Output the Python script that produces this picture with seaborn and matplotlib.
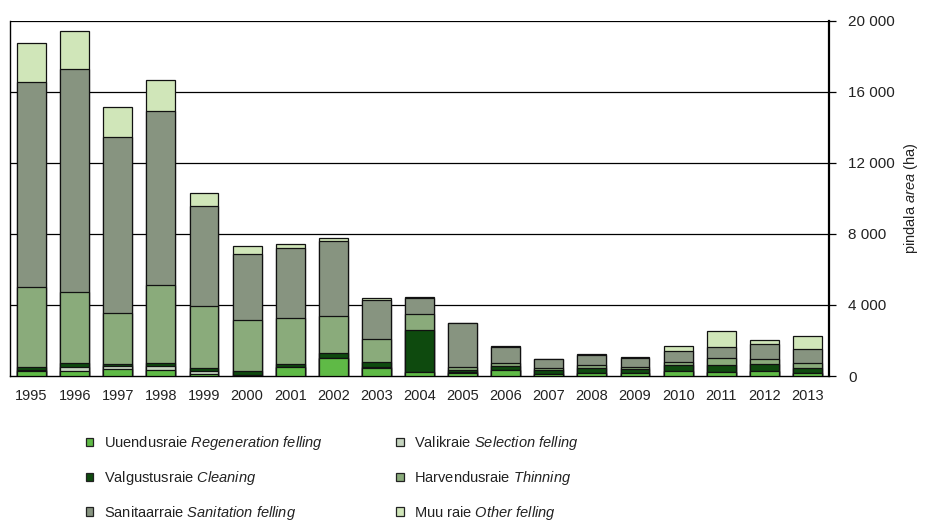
import numpy as np
import pandas as pd
import seaborn as sns
import matplotlib
matplotlib.use("Agg")
import matplotlib.pyplot as plt
from matplotlib.patches import Patch
from matplotlib.ticker import FuncFormatter

years = [str(y) for y in range(1995, 2014)]
regeneration = [300, 300, 390, 320, 100, 20, 520, 990, 470, 200, 180, 340, 100, 150, 170, 300, 230, 280, 190]
selection = [30, 220, 150, 220, 200, 10, 0, 0, 50, 0, 30, 0, 20, 0, 0, 0, 0, 0, 0]
cleaning = [150, 230, 150, 190, 170, 250, 140, 320, 250, 2390, 150, 220, 200, 300, 210, 300, 370, 380, 260]
thinning = [4520, 3980, 2840, 4400, 3460, 2870, 2620, 2090, 1300, 880, 160, 190, 120, 170, 110, 170, 400, 280, 270]
sanitation = [11580, 12580, 9930, 9780, 5670, 3720, 3930, 4200, 2190, 940, 2450, 900, 500, 540, 510, 640, 650, 860, 800]
other = [2200, 2140, 1690, 1780, 690, 430, 240, 190, 150, 60, 30, 20, 20, 100, 50, 260, 890, 250, 720]

names = ["Uuendusraie", "Valikraie", "Valgustusraie", "Harvendusraie", "Sanitaarraie", "Muu raie"]
names_en = ["Regeneration felling", "Selection felling", "Cleaning", "Thinning",
            "Sanitation felling", "Other felling"]
colors = ["#5fba46", "#c5d4bf", "#0e4a0e", "#8aab7b", "#879480", "#d0e6b9"]

df = pd.DataFrame({"year": years, "reg": regeneration, "sel": selection, "cle": cleaning,
                   "thi": thinning, "san": sanitation, "oth": other})
cols = ["reg", "sel", "cle", "thi", "san", "oth"]
cum = df[cols].cumsum(axis=1)
cum["year"] = df["year"]

sns.set_style("white")
plt.rcParams["font.family"] = ["Liberation Sans", "DejaVu Sans"]
plt.rcParams["mathtext.fontset"] = "custom"
plt.rcParams["mathtext.rm"] = "Liberation Sans"
plt.rcParams["mathtext.it"] = "Liberation Sans:italic"

fig = plt.figure(figsize=(9.3, 5.24), dpi=100)
ax = fig.add_axes([10 / 930, 1 - 376 / 524, 819 / 930, 355 / 524])

# draw cumulative totals from the top segment down so each overlays the next
for c, col in reversed(list(zip(colors, cols))):
    sns.barplot(data=cum, x="year", y=col, color=c, saturation=1, width=0.67,
                edgecolor="#111111", linewidth=0.9, ax=ax, zorder=3)

ax.set_ylim(0, 20000)
ax.set_xlim(-0.5, 18.5)
ax.set_yticks(np.arange(0, 20001, 4000))
ax.yaxis.set_major_formatter(FuncFormatter(lambda v, p: f"{int(v):,}".replace(",", " ")))
ax.yaxis.tick_right()
ax.yaxis.set_label_position("right")
for v in range(4000, 20001, 4000):
    ax.axhline(v, color="black", linewidth=0.9, zorder=1)

ax.set_xticks(np.arange(-0.5, 19, 1), minor=True)
ax.tick_params(axis="x", which="major", length=0, labelsize=10.5, colors="#222222", pad=9)
ax.tick_params(axis="x", which="minor", length=4, width=0.9, color="black", direction="out")
ax.tick_params(axis="y", length=5, width=0.9, color="black", direction="out",
               labelsize=11, labelcolor="#222222", pad=9, right=True, left=False)

ax.set_xlabel("")
ax.set_ylabel(r"pindala $\mathit{area}$ (ha)", fontsize=10.5, color="#222222", labelpad=5)

for s in ["left", "bottom", "right"]:
    ax.spines[s].set_visible(True)
    ax.spines[s].set_color("black")
    ax.spines[s].set_linewidth(1.0)
ax.spines["right"].set_linewidth(1.6)
ax.spines["top"].set_visible(False)

handles = [Patch(facecolor=c, edgecolor="#222222", linewidth=0.9) for c in colors]
labels = [n + " $\\mathit{" + e.replace(" ", "\\ ") + "}$" for n, e in zip(names, names_en)]
order = [0, 2, 4, 1, 3, 5]
fig.legend([handles[i] for i in order], [labels[i] for i in order],
           loc="upper left", bbox_to_anchor=(73 / 930, 1 - 421 / 524), ncol=2,
           frameon=False, fontsize=10.5, handlelength=0.5, handleheight=0.5,
           handletextpad=0.7, labelspacing=1.15, columnspacing=5.05,
           labelcolor="#222222")

fig.savefig("out.png", dpi=100)
